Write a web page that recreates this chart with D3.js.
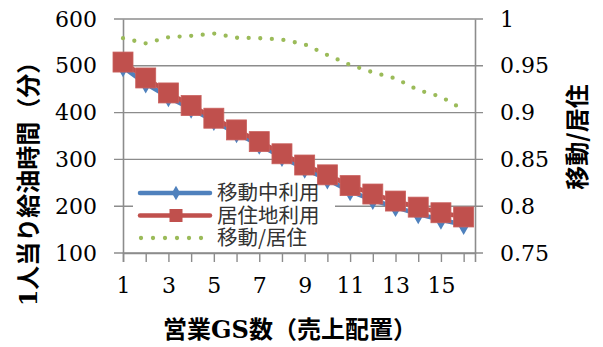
<!DOCTYPE html>
<html>
<head>
<meta charset="utf-8">
<script src="https://cdn.jsdelivr.net/npm/d3@7"></script>
<style>
  html, body { margin: 0; padding: 0; background: #fff; }
  svg { display: block; }
</style>
</head>
<body>
<svg id="chart" width="603" height="347"></svg>
<script>
const categories = [1, 2, 3, 4, 5, 6, 7, 8, 9, 10, 11, 12, 13, 14, 15, 16];
const xTickLabels = [1, 3, 5, 7, 9, 11, 13, 15];
const leftTicks = [100, 200, 300, 400, 500, 600];
const rightTicks = [0.75, 0.8, 0.85, 0.9, 0.95, 1];
const rightTickLabels = ["0.75", "0.8", "0.85", "0.9", "0.95", "1"];

const seriesNames = ["移動中利用", "居住地利用", "移動/居住"];
const moving    = [497, 462, 433, 408, 382, 356, 331, 305, 280, 257, 232, 213, 198, 183, 171, 160];
const residence = [508, 474, 442, 415, 388, 363, 338, 312, 288, 267, 244, 226, 211, 198, 186, 177];
const ratio     = [0.9795, 0.974, 0.9805, 0.982, 0.9845, 0.980, 0.9795, 0.978, 0.973, 0.9615, 0.951, 0.943, 0.9365, 0.924, 0.917, 0.903];

const leftTitle = "1人当り給油時間（分）";
const rightTitle = "移動/居住";
const xTitle = "営業GS数（売上配置）";

const BLUE = "#4F81BD", RED = "#C0504D", GREEN = "#9BBB59", GRID = "#8c8c8c";
const serif = "'DejaVu Serif', serif";
const cjk = "'Noto Sans CJK JP', 'Noto Sans', sans-serif";

const svg = d3.select("#chart");
const L = 123, R = 475, T = 19, B = 253;

const x = d3.scaleLinear().domain([1, 16.5]).range([L, R]);
const yL = d3.scaleLinear().domain([100, 600]).range([B, T]);
const yR = d3.scaleLinear().domain([0.75, 1]).range([B, T]);

// gridlines (extend over the tick marks on both sides)
svg.append("g").selectAll("line").data(leftTicks).join("line")
  .attr("x1", L - 9).attr("x2", R + 8)
  .attr("y1", d => yL(d)).attr("y2", d => yL(d))
  .attr("stroke", GRID).attr("stroke-width", 1.4);

// left axis
const gL = svg.append("g").attr("transform", `translate(${L},0)`)
  .call(d3.axisLeft(yL).tickValues(leftTicks).tickSize(0).tickPadding(26));
gL.select(".domain").attr("stroke", GRID).attr("stroke-width", 1.6);
gL.selectAll("text").attr("font-family", serif).attr("font-size", 22).attr("fill", "#000");

// right axis
const gR = svg.append("g").attr("transform", `translate(${R},0)`)
  .call(d3.axisRight(yR).tickValues(rightTicks).tickFormat((d, i) => rightTickLabels[i]).tickSize(0).tickPadding(25));
gR.select(".domain").attr("stroke", GRID).attr("stroke-width", 1.6);
gR.selectAll("text").attr("font-family", serif).attr("font-size", 22).attr("fill", "#000");

// bottom axis
const gB = svg.append("g").attr("transform", `translate(0,${B})`)
  .call(d3.axisBottom(x).tickValues(categories).tickSize(9)
    .tickFormat(d => xTickLabels.includes(d) ? String(d) : ""));
gB.select(".domain").attr("stroke", GRID).attr("stroke-width", 1.6);
gB.selectAll(".tick line").attr("stroke", GRID).attr("stroke-width", 1.4);
gB.selectAll("text").attr("font-family", serif).attr("font-size", 22).attr("fill", "#000").attr("dy", "1.25em");

// legend background
svg.append("rect").attr("x", 133).attr("y", 176).attr("width", 202).attr("height", 72).attr("fill", "#fff");

// series 1: moving (blue, diamonds)
const lineL = d3.line().x((d, i) => x(categories[i])).y(d => yL(d));
svg.append("path").datum(moving).attr("d", lineL)
  .attr("fill", "none").attr("stroke", BLUE).attr("stroke-width", 4.5)
  .attr("stroke-linejoin", "round").attr("stroke-linecap", "round");
const diamond = d3.symbol().type(d3.symbolDiamond).size(115);
svg.append("g").selectAll("path").data(moving).join("path")
  .attr("d", diamond)
  .attr("transform", (d, i) => `translate(${x(categories[i])},${yL(d)})`)
  .attr("fill", BLUE);

// series 2: residence (red, squares)
svg.append("path").datum(residence).attr("d", lineL)
  .attr("fill", "none").attr("stroke", RED).attr("stroke-width", 4.5)
  .attr("stroke-linejoin", "round").attr("stroke-linecap", "round");
svg.append("g").selectAll("rect").data(residence).join("rect")
  .attr("x", (d, i) => x(categories[i]) - 10).attr("y", d => yL(d) - 10)
  .attr("width", 20).attr("height", 20)
  .attr("fill", RED).attr("stroke", "#c9605d").attr("stroke-width", 0.8);

// series 3: ratio (green dotted)
const lineR = d3.line().x((d, i) => x(categories[i])).y(d => yR(d));
svg.append("path").datum(ratio).attr("d", lineR)
  .attr("fill", "none").attr("stroke", GREEN).attr("stroke-width", 4.3)
  .attr("stroke-linecap", "round").attr("stroke-dasharray", "0,11.6");

// legend
const lg = svg.append("g");
const rows = [193, 215.5, 238];
// row 1
lg.append("line").attr("x1", 140).attr("x2", 210).attr("y1", rows[0]).attr("y2", rows[0])
  .attr("stroke", BLUE).attr("stroke-width", 4.5).attr("stroke-linecap", "round");
lg.append("path").attr("d", d3.symbol().type(d3.symbolDiamond).size(60))
  .attr("transform", `translate(176,${rows[0]})`).attr("fill", BLUE);
// row 2
lg.append("line").attr("x1", 140).attr("x2", 210).attr("y1", rows[1]).attr("y2", rows[1])
  .attr("stroke", RED).attr("stroke-width", 4.5).attr("stroke-linecap", "round");
lg.append("rect").attr("x", 169.5).attr("y", rows[1] - 6.5).attr("width", 13).attr("height", 13).attr("fill", RED);
// row 3
lg.append("line").attr("x1", 141).attr("x2", 210).attr("y1", rows[2]).attr("y2", rows[2])
  .attr("stroke", GREEN).attr("stroke-width", 4.3).attr("stroke-linecap", "round").attr("stroke-dasharray", "0,12");
lg.selectAll("text.lt").data(seriesNames).join("text").attr("class", "lt")
  .attr("x", 217).attr("y", (d, i) => rows[i]).attr("dy", "0.36em")
  .attr("font-family", cjk).attr("font-size", 20.5).attr("fill", "#333")
  .text(d => d);

// titles
function titleText(sel, str) {
  // latin runs in serif bold, CJK in sans bold
  const parts = str.match(/[A-Za-z0-9]+|[^A-Za-z0-9]+/g);
  sel.selectAll("tspan").data(parts).join("tspan")
    .attr("font-family", d => /^[A-Za-z0-9]+$/.test(d) ? serif : cjk)
    .text(d => d);
}
const xt = svg.append("text").attr("x", 290).attr("y", 338)
  .attr("text-anchor", "middle").attr("font-size", 24).attr("font-weight", "bold").attr("fill", "#000");
titleText(xt, xTitle);

const lt = svg.append("text").attr("transform", "translate(37,178) rotate(-90)")
  .attr("text-anchor", "middle").attr("font-size", 24).attr("font-weight", "bold").attr("fill", "#000");
titleText(lt, leftTitle);

const rt = svg.append("text").attr("transform", "translate(586,137) rotate(-90)")
  .attr("text-anchor", "middle").attr("font-size", 24).attr("font-weight", "bold").attr("fill", "#000");
titleText(rt, rightTitle);
</script>
</body>
</html>
